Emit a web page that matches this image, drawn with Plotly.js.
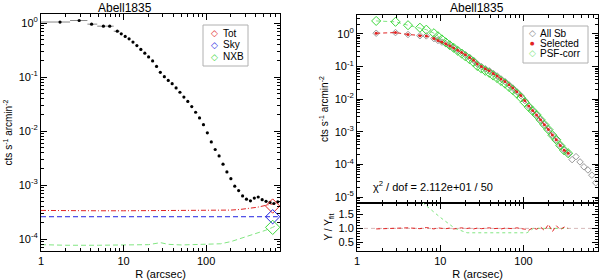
<!DOCTYPE html>
<html><head><meta charset="utf-8">
<script src="https://cdn.plot.ly/plotly-3.0.1.min.js"></script>
<style>html,body{margin:0;padding:0;background:#fff}#c{width:600px;height:280px}</style>
</head><body><div id="c"></div>
<script>
// ---------- data ----------
const clusterName = 'Abell1835';
// radii of the profile bins (arcsec)
const radius = [1.7, 2.9, 4.1, 5.7, 6.8, 8.4, 9.38, 10.47, 11.67, 13.0, 14.5, 16.2, 18.1, 20.1, 22.5, 25.1, 27.9, 31.2, 34.8, 38.8, 43.3, 48.2, 53.8, 60.0, 67.0, 74.6, 83.2, 92.9, 103.5, 115.6, 128.8, 143.6, 160.3, 178.6, 199.5, 222.3, 247.7, 276.7, 308.3, 344.4, 383.7, 427.6, 477.5, 532.1, 594.3, 662.2, 738.0];
// inner bin edges (horizontal error bars)
const binLo = [1.0, 2.25, 3.65, 4.8, 6.2, 7.6];
const binHi = [2.25, 3.65, 4.8, 6.2, 7.6, 9.0];
// left: total surface brightness
const totalSb = [1.05, 1.12, 0.96, 0.88, 0.88, 0.71, 0.634, 0.569, 0.513, 0.447, 0.385, 0.327, 0.278, 0.237, 0.200, 0.158, 0.123, 0.102, 0.0871, 0.0759, 0.0631, 0.0525, 0.0427, 0.0355, 0.0285, 0.0224, 0.0176, 0.0132, 0.00933, 0.00631, 0.00457, 0.00347, 0.00245, 0.00176, 0.00132, 0.000955, 0.000794, 0.000631, 0.000550, 0.000513, 0.000575, 0.000603, 0.000537, 0.000501, 0.000479, 0.000457, 0.000490];
// left: background levels
const bkgR = [1, 2, 5, 10, 20, 28, 35, 50, 100, 150, 200, 260, 340, 420, 520, 640, 740];
const bkgTot = [3.4e-4, 3.35e-4, 3.35e-4, 3.35e-4, 3.35e-4, 3.37e-4, 3.35e-4, 3.35e-4, 3.38e-4, 3.4e-4, 3.45e-4, 3.55e-4, 3.7e-4, 3.9e-4, 4.2e-4, 4.5e-4, 4.7e-4];
const bkgSky = [2.6e-4, 2.6e-4, 2.6e-4, 2.6e-4, 2.6e-4, 2.6e-4, 2.6e-4, 2.6e-4, 2.6e-4, 2.6e-4, 2.6e-4, 2.6e-4, 2.6e-4, 2.6e-4, 2.6e-4, 2.6e-4, 2.6e-4];
const bkgNxb = [7.9e-5, 7.7e-5, 7.7e-5, 7.8e-5, 7.9e-5, 8.6e-5, 8.0e-5, 7.8e-5, 7.9e-5, 8.2e-5, 9.0e-5, 1.02e-4, 1.15e-4, 1.3e-4, 1.45e-4, 1.65e-4, 1.85e-4];
const bkgMarkR = [640];
const bkgMarkTot = [4.1e-4], bkgMarkSky = [2.6e-4], bkgMarkNxb = [1.65e-4];
// right: background-subtracted profiles
const allSb = [1.05, 1.1, 0.96, 0.88, 0.87, 0.72, 0.631, 0.562, 0.501, 0.437, 0.372, 0.316, 0.269, 0.229, 0.191, 0.155, 0.120, 0.100, 0.0851, 0.0741, 0.0617, 0.0513, 0.0417, 0.0347, 0.0275, 0.0219, 0.0170, 0.0129, 0.00912, 0.00617, 0.00447, 0.00331, 0.00234, 0.00166, 0.00117, 0.000794, 0.000575, 0.000380, 0.000275, 0.000219, 1.41e-4, 1.74e-4, 1.20e-4, 8.5e-5, 6.8e-5, 4.7e-5, 2.75e-5];
const selectedSb = [1.05, 1.1, 0.96, 0.88, 0.87, 0.72, 0.631, 0.562, 0.501, 0.437, 0.372, 0.316, 0.269, 0.229, 0.191, 0.155, 0.120, 0.100, 0.0851, 0.0741, 0.0617, 0.0513, 0.0417, 0.0347, 0.0275, 0.0219, 0.0170, 0.0129, 0.00912, 0.00617, 0.00447, 0.00331, 0.00234, 0.00166, 0.00117, 0.000794, 0.000575, 0.000380, 0.000275, 0.000219];
const psfCorrSb = [2.5, 2.35, 1.85, 1.55, 1.35, 1.05, 0.85, 0.68, 0.55, 0.45, 0.375, 0.305, 0.25, 0.205, 0.168, 0.136, 0.104, 0.087, 0.074, 0.064, 0.053, 0.0445, 0.0362, 0.0300, 0.0238, 0.0190, 0.0148, 0.0112, 0.0080, 0.0058, 0.0044, 0.0033, 0.00234, 0.00166, 0.00117, 0.00079, 0.00057, 0.00038, 0.00027, 0.00022];
// lower panel: ratio to fit
const ratioSel = [0.98, 1.0, 1.02, 0.99, 1.03, 0.98, 1.02, 1.0, 0.99, 1.01, 0.98, 1.0, 1.02, 0.99, 1.01, 0.98, 1.01, 0.99, 1.0, 1.02, 0.99, 1.0, 0.98, 1.01, 1.0, 0.99, 1.02, 1.0, 0.97, 0.93, 1.02, 0.97, 1.05, 0.92, 1.15, 0.88, 1.1, 0.95, 1.05, 1.0];
const ratioPsfR = [5.0, 6.2, 10, 15, 21, 50, 110, 132, 340];
const ratioPsf = [2.3, 1.92, 1.4, 1.0, 0.84, 0.84, 0.84, 1.0, 1.0];
const unityR = [1, 800], unity = [1, 1];
const chi2Text = 'χ<sup>2</sup> / dof = 2.112e+01 / 50';
// tick labels
const xTickVals = [1, 10, 100], xTickText = ['1', '10', '100'];
const yTickValsL = [1, 1e-1, 1e-2, 1e-3, 1e-4];
const yTickTextL = ['10<sup>0</sup>', '10<sup>-1</sup>', '10<sup>-2</sup>', '10<sup>-3</sup>', '10<sup>-4</sup>'];
const yTickValsR = [1, 1e-1, 1e-2, 1e-3, 1e-4, 1e-5];
const yTickTextR = ['10<sup>0</sup>', '10<sup>-1</sup>', '10<sup>-2</sup>', '10<sup>-3</sup>', '10<sup>-4</sup>', '10<sup>-5</sup>'];
const ratioTickVals = [0.5, 1.0, 1.5], ratioTickText = ['0.5', '1.0', '1.5'];

// ---------- styling ----------
const RED = 'rgb(225,35,35)', BLUE = 'rgb(35,35,225)', GREEN = 'rgb(60,215,60)', LGREEN = 'rgb(130,230,130)';
const FONT = 'Liberation Sans, Arial, sans-serif';
const W = 600, H = 280;
const px = v => v / W, py = v => 1 - v / H;

function minorLog(lo, hi) { const out = []; for (let d = lo; d <= hi; d++) { for (let k = 2; k <= 9; k++) out.push(k * Math.pow(10, d)); } return out; }

const base = {
  showline: true, linecolor: '#000', linewidth: 1, mirror: 'ticks', ticks: 'inside',
  ticklen: 6, tickcolor: '#000', showgrid: false, zeroline: false,
  tickfont: {family: FONT, size: 11, color: '#000'}
};
const xLog = Object.assign({}, base, {type: 'log', range: [0, 2.895], tickmode: 'array', tickvals: xTickVals, ticktext: xTickText,
  minor: {tickmode: 'array', tickvals: minorLog(0, 2), ticks: 'inside', ticklen: 3, tickcolor: '#000', showgrid: false}});

const errPlus = radius.map((r, i) => i < binHi.length ? binHi[i] - r : 0);
const errMinus = radius.map((r, i) => i < binLo.length ? r - binLo[i] : 0);

const traces = [
  // left panel
  {x: bkgR, y: bkgTot, xaxis: 'x', yaxis: 'y', mode: 'lines', line: {color: RED, dash: '5px,2px,1px,2px', width: 1}, showlegend: false},
  {x: bkgR, y: bkgSky, xaxis: 'x', yaxis: 'y', mode: 'lines', line: {color: BLUE, dash: '5px,3px', width: 1}, showlegend: false},
  {x: bkgR, y: bkgNxb, xaxis: 'x', yaxis: 'y', mode: 'lines', line: {color: LGREEN, dash: '5px,3px', width: 1}, showlegend: false},
  {x: radius, y: totalSb, xaxis: 'x', yaxis: 'y', mode: 'markers', name: 'Total',
   marker: {symbol: 'circle', size: 3.2, color: '#000'},
   error_x: {type: 'data', symmetric: false, array: errPlus, arrayminus: errMinus, color: '#888', thickness: 1, width: 0},
   showlegend: false},
  {x: bkgMarkR, y: bkgMarkTot, xaxis: 'x', yaxis: 'y', mode: 'markers', name: 'Tot', marker: {symbol: 'diamond-open', size: 11, color: RED, line: {width: 1}}, showlegend: false},
  {x: bkgMarkR, y: bkgMarkSky, xaxis: 'x', yaxis: 'y', mode: 'markers', name: 'Sky', marker: {symbol: 'diamond-open', size: 11, color: BLUE, line: {width: 1}}, showlegend: false},
  {x: bkgMarkR, y: bkgMarkNxb, xaxis: 'x', yaxis: 'y', mode: 'markers', name: 'NXB', marker: {symbol: 'diamond-open', size: 11, color: GREEN, line: {width: 1}}, showlegend: false},
  // right top panel
  {x: radius, y: allSb, xaxis: 'x2', yaxis: 'y2', mode: 'markers', name: 'All Sb', marker: {symbol: 'diamond-open', size: 5, color: '#999', line: {width: 1}}, showlegend: false},
  {x: radius.slice(0, psfCorrSb.length), y: psfCorrSb, xaxis: 'x2', yaxis: 'y2', mode: 'lines+markers', name: 'PSF-corr',
   line: {color: LGREEN, dash: '4px,3px', width: 1}, marker: {symbol: 'diamond-open', size: 7, color: GREEN, line: {width: 1}}, showlegend: false},
  {x: radius.slice(0, selectedSb.length), y: selectedSb, xaxis: 'x2', yaxis: 'y2', mode: 'lines+markers', name: 'Selected',
   line: {color: RED, dash: '4px,3px', width: 1}, marker: {symbol: 'circle', size: 3, color: RED}, showlegend: false},
  // right bottom panel
  {x: unityR, y: unity, xaxis: 'x3', yaxis: 'y3', mode: 'lines', line: {color: 'rgb(215,185,185)', dash: '4px,3px', width: 1}, showlegend: false},
  {x: ratioPsfR, y: ratioPsf, xaxis: 'x3', yaxis: 'y3', mode: 'lines', line: {color: LGREEN, dash: 'dot', width: 1}, showlegend: false},
  {x: radius.slice(0, ratioSel.length), y: ratioSel, xaxis: 'x3', yaxis: 'y3', mode: 'lines', line: {color: RED, dash: '4px,3px', width: 1}, showlegend: false}
];

const ann = (x, y, text, opts) => Object.assign({xref: 'paper', yref: 'paper', x: px(x), y: py(y), text: text, showarrow: false,
  xanchor: 'center', yanchor: 'middle', font: {family: FONT, size: 11, color: '#000'}}, opts || {});
const sym = (x, y, ch, color, size) => ann(x, y, ch, {font: {family: 'DejaVu Sans', size: size || 9, color: color}});
const LF = {family: FONT, size: 10, color: '#000'};

const layout = {
  width: W, height: H, margin: {l: 0, r: 0, t: 0, b: 0}, paper_bgcolor: '#fff', plot_bgcolor: '#fff',
  showlegend: false, font: {family: FONT, size: 11, color: '#000'},
  xaxis: Object.assign({}, xLog, {domain: [px(41), px(280)], anchor: 'y',
    title: {text: 'R (arcsec)', font: {family: FONT, size: 11}, standoff: 4}}),
  yaxis: Object.assign({}, base, {type: 'log', domain: [py(251), py(14)], anchor: 'x', range: [-4.22, 0.17],
    tickmode: 'array', tickvals: yTickValsL, ticktext: yTickTextL,
    minor: {tickmode: 'array', tickvals: minorLog(-5, 0), ticks: 'inside', ticklen: 3, tickcolor: '#000', showgrid: false},
    title: {text: 'cts s<sup>-1</sup> arcmin<sup>-2</sup>', font: {family: FONT, size: 10}, standoff: 4}}),
  xaxis2: Object.assign({}, xLog, {domain: [px(357), px(598)], anchor: 'y2', showticklabels: false, matches: 'x3'}),
  yaxis2: Object.assign({}, base, {type: 'log', domain: [py(203), py(15)], anchor: 'x2', range: [-5.18, 0.58],
    tickmode: 'array', tickvals: yTickValsR, ticktext: yTickTextR,
    minor: {tickmode: 'array', tickvals: minorLog(-6, 0), ticks: 'inside', ticklen: 3, tickcolor: '#000', showgrid: false},
    title: {text: 'cts s<sup>-1</sup> arcmin<sup>-2</sup>', font: {family: FONT, size: 10}, standoff: 4}}),
  xaxis3: Object.assign({}, xLog, {domain: [px(357), px(598)], anchor: 'y3',
    title: {text: 'R (arcsec)', font: {family: FONT, size: 11}, standoff: 4}}),
  yaxis3: Object.assign({}, base, {domain: [py(251), py(203)], anchor: 'x3', range: [0.18, 1.92],
    tickmode: 'array', tickvals: ratioTickVals, ticktext: ratioTickText,
    minor: {dtick: 0.1, ticks: 'inside', ticklen: 3, tickcolor: '#000', showgrid: false},
    title: {text: 'Y / Y<sub>fit</sub>', font: {family: FONT, size: 10}, standoff: 4}}),
  shapes: [
    {type: 'rect', xref: 'paper', yref: 'paper', x0: px(203), x1: px(248), y0: py(66), y1: py(25), line: {color: '#b0b0b0', width: 1}},
    {type: 'rect', xref: 'paper', yref: 'paper', x0: px(523), x1: px(588), y0: py(63), y1: py(26), line: {color: '#b0b0b0', width: 1}}
  ],
  annotations: [
    ann(125, 8, clusterName, {font: {family: FONT, size: 12, color: '#000'}}),
    ann(477, 8, clusterName, {font: {family: FONT, size: 12, color: '#000'}}),
    sym(214, 33, '◇', RED), ann(221, 33, 'Tot', {xanchor: 'left', font: LF}),
    sym(214, 45, '◇', BLUE), ann(221, 45, 'Sky', {xanchor: 'left', font: LF}),
    sym(214, 57, '◇', GREEN), ann(221, 57, 'NXB', {xanchor: 'left', font: LF}),
    sym(532, 33, '◇', '#888'), ann(538, 33, 'All Sb', {xanchor: 'left', font: LF}),
    sym(532, 43, '●', RED, 5), ann(538, 43, 'Selected', {xanchor: 'left', font: LF}),
    sym(532, 53, '◇', LGREEN), ann(538, 53, 'PSF-corr', {xanchor: 'left', font: LF}),
    ann(371, 186, chi2Text, {xanchor: 'left', font: {family: FONT, size: 11, color: '#000'}})
  ]
};

Plotly.newPlot('c', traces, layout, {staticPlot: true, displayModeBar: false});
</script></body></html>
